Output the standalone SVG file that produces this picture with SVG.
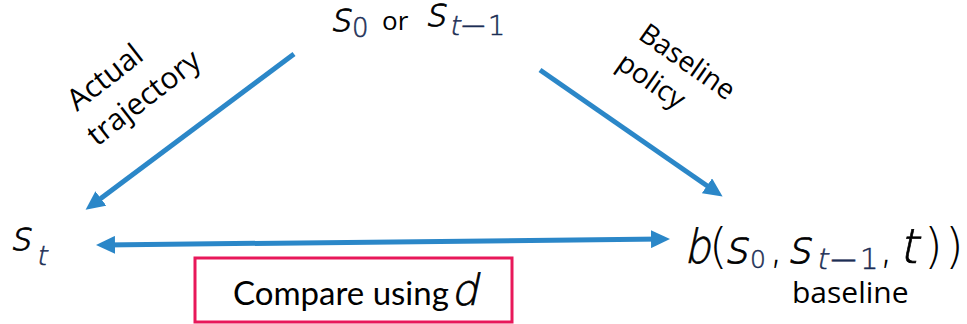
<svg xmlns="http://www.w3.org/2000/svg" width="967" height="324" viewBox="0 0 967 324">
<style>
.m{font-family:"DejaVu Sans",sans-serif;font-weight:200;fill:#000;stroke:#000;stroke-width:0.7}
.ms{font-family:"DejaVu Sans",sans-serif;font-weight:200;fill:#1c2e55;stroke:#1c2e55;stroke-width:0.5}
.up{font-family:"DejaVu Sans",sans-serif;font-weight:200;fill:#000}
.lbl{font-family:"Open Sans",sans-serif;fill:#000}
.cmp{font-family:Lato,sans-serif;fill:#000}
.arr{stroke:#2B87C8;stroke-width:5;fill:none}
</style>
<defs>
<marker id="ah" markerUnits="userSpaceOnUse" markerWidth="20" markerHeight="18" refX="11" refY="9" orient="auto-start-reverse" viewBox="0 0 20 18">
<path d="M0,0 L19,9 L0,18 z" fill="#2B87C8"/>
</marker>
</defs>
<g id="connectors">
<line class="arr" x1="294" y1="54" x2="92" y2="205" marker-end="url(#ah)"/>
<line class="arr" x1="540" y1="70" x2="716" y2="192" marker-end="url(#ah)"/>
<line class="arr" x1="104" y1="245" x2="662" y2="239" marker-start="url(#ah)" marker-end="url(#ah)"/>
</g>
<g id="node-top">
<text class="m" font-size="40" transform="translate(330,31) skewX(-12)">s</text>
<text class="ms" x="352" y="37" font-size="26">0</text>
<text class="lbl" x="382" y="30" font-size="26">or</text>
<text class="m" font-size="40" transform="translate(425,26) skewX(-12)">s</text>
<text class="ms" font-size="27" transform="translate(449,35) skewX(-12)">t</text>
<text class="ms" x="459" y="37" font-size="34">−</text>
<text class="ms" x="488" y="35" font-size="27">1</text>
</g>
<g id="node-st">
<text class="m" font-size="40" transform="translate(10,250) skewX(-12)">s</text>
<text class="ms" font-size="27" transform="translate(36,265) skewX(-12)">t</text>
</g>
<g id="node-baseline">
<text class="m" font-size="47" transform="translate(684,263) skewX(-12) scale(0.88,1)">b</text>
<text class="up" x="709" y="263" font-size="48">(</text>
<text class="m" font-size="46" transform="translate(724,263) skewX(-12)">s</text>
<text class="ms" x="750" y="268" font-size="25">0</text>
<text class="up" x="769" y="263" font-size="46">,</text>
<text class="m" font-size="46" transform="translate(787,263) skewX(-12)">s</text>
<text class="ms" font-size="29" transform="translate(816,269) skewX(-12)">t</text>
<text class="ms" x="828" y="272" font-size="37">−</text>
<text class="ms" x="860" y="269" font-size="29">1</text>
<text class="up" x="879" y="263" font-size="46">,</text>
<text class="m" font-size="48" transform="translate(899,263) skewX(-12)">t</text>
<text class="up" x="924" y="263" font-size="48">)</text>
<text class="up" x="945" y="263" font-size="48">)</text>
<text class="lbl" x="792" y="303" font-size="30">baseline</text>
</g>
<g id="label-actual">
<text class="lbl" font-size="30" transform="translate(77,112) rotate(-38)">Actual</text>
<text class="lbl" font-size="30" transform="translate(97,147) rotate(-38)">trajectory</text>
</g>
<g id="label-policy">
<text class="lbl" font-size="28" transform="translate(637,38) rotate(35)">Baseline</text>
<text class="lbl" font-size="28" transform="translate(615,67) rotate(35)">policy</text>
</g>
<g id="node-compare">
<rect x="195" y="258" width="317" height="64" fill="none" stroke="#E8185A" stroke-width="3"/>
<text class="cmp" x="233" y="305" font-size="33">Compare using</text>
<text class="m" font-size="43" transform="translate(451,305) skewX(-12)">d</text>
</g>
</svg>
